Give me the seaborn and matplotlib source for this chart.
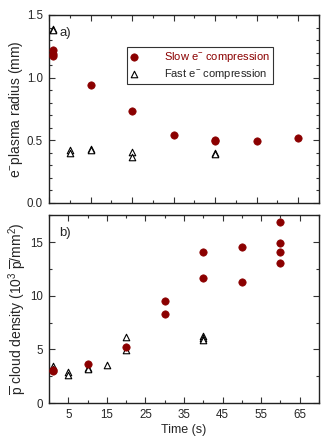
import matplotlib
matplotlib.use("Agg")
from matplotlib import pyplot as plt
from matplotlib.ticker import MultipleLocator
import seaborn as sns
import numpy as np
import pandas as pd

# radius data (panel a)
slow_r_t = [1, 1, 1, 10, 20, 30, 40, 40, 50, 60]
slow_r = [1.22, 1.19, 1.17, 0.94, 0.735, 0.545, 0.505, 0.49, 0.49, 0.52]
fast_r_t = [1, 1, 5, 5, 10, 10, 20, 20, 40, 40]
fast_r = [1.39, 1.38, 0.42, 0.40, 0.43, 0.42, 0.41, 0.37, 0.40, 0.39]

# density data (panel b)
slow_d_t = [1, 1, 10, 20, 30, 30, 40, 40, 50, 50, 60, 60, 60, 60]
slow_d = [3.1, 2.95, 3.65, 5.25, 9.5, 8.3, 14.1, 11.65, 14.5, 11.3, 16.85, 14.9, 14.05, 13.05]
fast_d_t = [1, 1, 5, 5, 10, 10, 15, 20, 20, 40, 40, 40]
fast_d = [3.5, 3.2, 2.9, 2.65, 3.3, 3.2, 3.55, 6.15, 4.95, 6.25, 6.05, 5.9]

slow_label = "Slow e$^{-}$ compression"
fast_label = "Fast e$^{-}$ compression"
red = "#8b0000"

sns.set_style("ticks")
plt.rcParams['font.family'] = ['Liberation Sans', 'DejaVu Sans']
plt.rcParams['mathtext.fontset'] = 'custom'
plt.rcParams['mathtext.rm'] = 'Liberation Sans'
plt.rcParams['mathtext.it'] = 'Liberation Sans:italic'
plt.rcParams['font.size'] = 8

fig = plt.figure(figsize=(3.34, 4.41), dpi=100)
ax1 = fig.add_axes([0.147, 0.540, 0.808, 0.426])
ax2 = fig.add_axes([0.147, 0.086, 0.808, 0.426])


def style_axes(ax):
    ax.tick_params(which="both", direction="in", top=True, right=True,
                   width=0.8, color="#333333", labelsize=8.3, pad=4.5)
    ax.tick_params(which="major", length=4)
    ax.tick_params(which="minor", length=2.5)
    for s in ax.spines.values():
        s.set_linewidth(1.0)
        s.set_color("#222222")


# panel a
sns.scatterplot(x=slow_r_t, y=slow_r, ax=ax1, color=red, marker="o", s=28,
                edgecolor=red, linewidth=0.5, label=slow_label, zorder=3)
sns.scatterplot(x=fast_r_t, y=fast_r, ax=ax1, marker="^", s=22,
                facecolor="white", edgecolor="black", linewidth=0.8,
                label=fast_label, zorder=3)
ax1.set_xlim(0, 65)
ax1.set_ylim(0, 1.5)
ax1.xaxis.set_major_locator(MultipleLocator(10))
ax1.xaxis.set_minor_locator(MultipleLocator(5))
ax1.yaxis.set_major_locator(MultipleLocator(0.5))
ax1.yaxis.set_minor_locator(MultipleLocator(0.1))
ax1.set_xticklabels([])
ax1.set_ylabel("e$^{-}$plasma radius (mm)", fontsize=10, labelpad=1)
style_axes(ax1)
ax1.text(0.037, 0.904, "a)", transform=ax1.transAxes, fontsize=9.5, va="center")
leg = ax1.legend(loc="upper left", bbox_to_anchor=(0.289, 0.83), frameon=True,
                 fancybox=False, edgecolor="black", fontsize=8,
                 handletextpad=2.4, borderpad=0.3, labelspacing=0.25,
                 handlelength=0.6, borderaxespad=0)
leg.get_frame().set_linewidth(0.8)
leg.get_texts()[0].set_color(red)

# panel b
sns.scatterplot(x=slow_d_t, y=slow_d, ax=ax2, color=red, marker="o", s=28,
                edgecolor=red, linewidth=0.5, zorder=3)
sns.scatterplot(x=fast_d_t, y=fast_d, ax=ax2, marker="^", s=22,
                facecolor="white", edgecolor="black", linewidth=0.8, zorder=2)
ax2.set_xlim(0, 70)
ax2.set_ylim(0, 17.5)
ax2.set_xticks([5, 15, 25, 35, 45, 55, 65])
ax2.xaxis.set_minor_locator(MultipleLocator(5))
ax2.yaxis.set_major_locator(MultipleLocator(5))
ax2.yaxis.set_minor_locator(MultipleLocator(2.5))
ax2.set_xlabel("Time (s)", fontsize=9, labelpad=2)
ax2.set_ylabel(r"$\overline{\mathrm{p}}$ cloud density (10$^3$ $\overline{\mathrm{p}}$/mm$^2$)",
               fontsize=10, labelpad=1)
style_axes(ax2)
ax2.text(0.037, 0.904, "b)", transform=ax2.transAxes, fontsize=9.5, va="center")

fig.savefig("out.png", dpi=100)
